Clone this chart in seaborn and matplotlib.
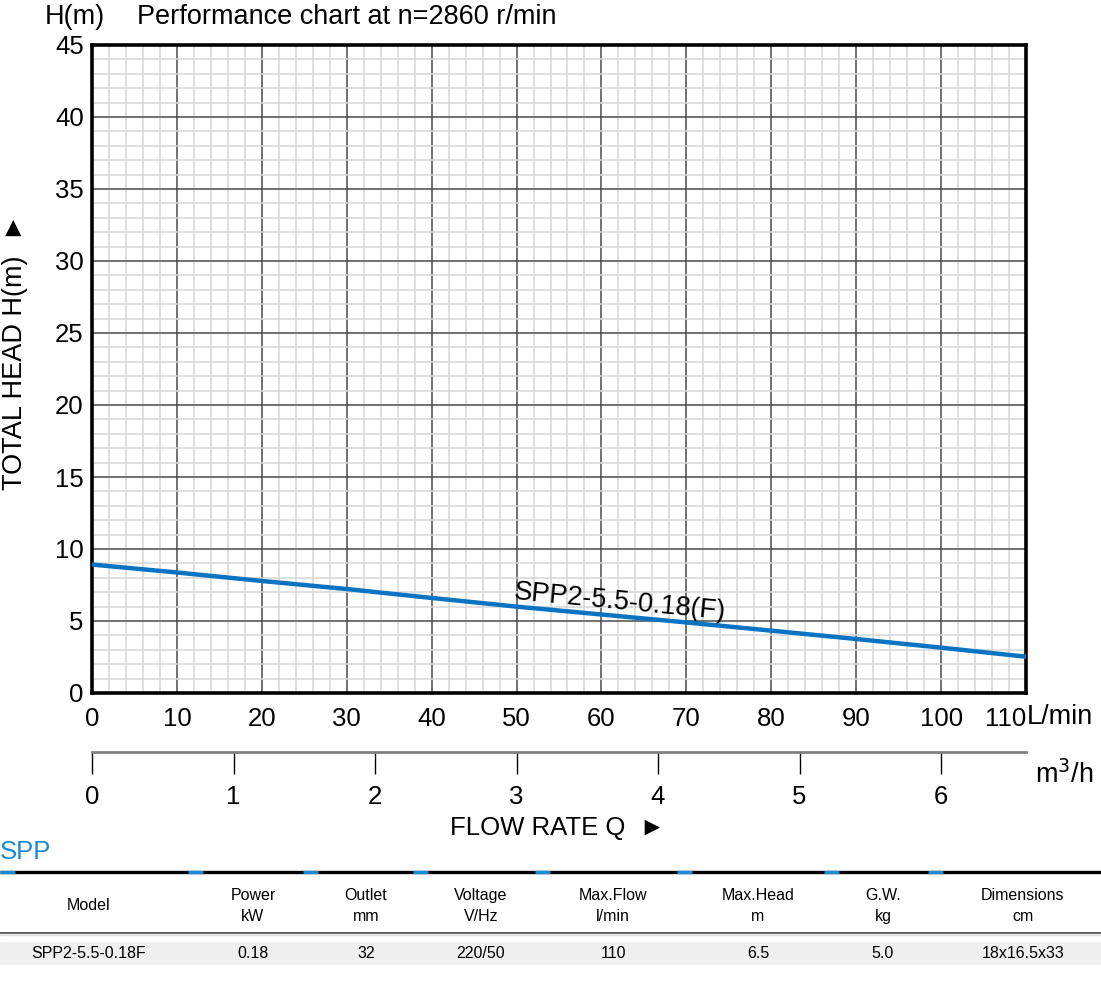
import numpy as np
import pandas as pd
import matplotlib
matplotlib.use("Agg")
import matplotlib.pyplot as plt
from matplotlib.ticker import MultipleLocator
from matplotlib.patches import Rectangle
import seaborn as sns

# -----------------------------
# Data
# -----------------------------
flow_lmin = [0, 10, 20, 30, 40, 50, 60, 70, 80, 90, 100, 110]
head_m = [8.92, 8.37, 7.78, 7.22, 6.6, 6.0, 5.45, 4.9, 4.33, 3.75, 3.15, 2.52]
curve_name = "SPP2-5.5-0.18(F)"

x_ticks = [0, 10, 20, 30, 40, 50, 60, 70, 80, 90, 100, 110]
y_ticks = [0, 5, 10, 15, 20, 25, 30, 35, 40, 45]
m3h_ticks = [0, 1, 2, 3, 4, 5, 6]

table_cols = ["Model", "Power\nkW", "Outlet\nmm", "Voltage\nV/Hz", "Max.Flow\nl/min",
              "Max.Head\nm", "G.W.\nkg", "Dimensions\ncm"]
table_row = ["SPP2-5.5-0.18F", "0.18", "32", "220/50", "110", "6.5", "5.0", "18x16.5x33"]
col_centers = [89, 253, 366, 481, 613, 758, 883, 1023]
blue_marks = [0, 188, 303, 413, 535, 677, 824, 928]

df = pd.DataFrame({"flow": flow_lmin, "head": head_m})

# -----------------------------
# Style
# -----------------------------
sns.set_theme(style="white")
plt.rcParams["font.family"] = ["Liberation Sans", "DejaVu Sans"]
plt.rcParams["text.color"] = "black"

BLUE = "#0a74c2"
W, H = 1101, 986
fig = plt.figure(figsize=(W / 100, H / 100), dpi=100)


def fy(py):
    return 1 - py / H


# -----------------------------
# Main performance chart
# -----------------------------
ax = fig.add_axes([92 / W, fy(693), (1026 - 92) / W, (693 - 45) / H])
sns.lineplot(data=df, x="flow", y="head", ax=ax, color=BLUE, linewidth=3.2, zorder=5)
ax.set_xlim(0, 110)
ax.set_ylim(0, 45)
ax.set_xticks(x_ticks)
ax.set_yticks(y_ticks)
ax.xaxis.set_minor_locator(MultipleLocator(2))
ax.yaxis.set_minor_locator(MultipleLocator(1))
ax.grid(which="minor", color="#d6d6d6", linewidth=1.1, zorder=0)
ax.grid(which="major", color="#4a4a4a", linewidth=1.1, zorder=1)
ax.set_axisbelow(True)
ax.tick_params(which="both", length=0, labelsize=18.5, colors="black")
ax.tick_params(axis="x", pad=10)
ax.tick_params(axis="y", pad=6)
ax.get_xticklabels()[-1].set_ha("right")
ax.set_xlabel("")
ax.set_ylabel("")
for s in ax.spines.values():
    s.set_color("black")
    s.set_linewidth(2.6)

ax.text(49.6, 6.55, curve_name, fontsize=19.5, rotation=-5.5, ha="left", va="baseline",
        rotation_mode="anchor")

fig.text(1027 / W, fy(717), "L/min", fontsize=19.5, va="center", ha="left")
fig.text(45 / W, fy(17), "H(m)", fontsize=19.5, va="center", ha="left")
fig.text(137 / W, fy(17), "Performance chart at n=2860 r/min", fontsize=19.5,
         va="center", ha="left")
fig.text(15 / W, fy(352), "TOTAL HEAD H(m)  \u25BA", fontsize=19.5, rotation=90,
         va="center", ha="center")

# -----------------------------
# Secondary m3/h axis
# -----------------------------
ax2 = fig.add_axes([92 / W, fy(752), (1026 - 92) / W, 0.0001])
ax2.set_xlim(0, 110 / 16.6667)
ax2.set_xticks(m3h_ticks)
ax2.set_yticks([])
for side in ["left", "right", "bottom"]:
    ax2.spines[side].set_visible(False)
ax2.spines["top"].set_color("#808080")
ax2.spines["top"].set_linewidth(2)
ax2.tick_params(axis="x", bottom=True, direction="out", length=16, width=1,
                color="black", labelsize=18.5, labelcolor="black", pad=8)
ax2.patch.set_alpha(0)
fig.text(1035 / W, fy(775), "m$^{3}$/h", fontsize=19.5, va="center", ha="left")
fig.text(558 / W, fy(828), "FLOW RATE Q  \u25BA", fontsize=18.5, va="center", ha="center")

# -----------------------------
# Specification table
# -----------------------------
tab = fig.add_axes([0, 0, 1, fy(838)])
tab.set_xlim(0, W)
tab.set_ylim(H, 838)
tab.axis("off")

fig.text(0 / W, fy(852), "SPP", fontsize=18.5, color="#1a8ad4", va="center", ha="left")
tab.plot([0, W], [871.5, 871.5], color="black", linewidth=2.4, solid_capstyle="butt")
for bx in blue_marks:
    tab.plot([bx, bx + 15], [871.5, 871.5], color="#1a8ad4", linewidth=2.4,
             solid_capstyle="butt")

for cx, label in zip(col_centers, table_cols):
    tab.text(cx, 906, label, fontsize=11.5, ha="center", va="center", linespacing=1.55)

tab.plot([0, W], [933, 933], color="#444444", linewidth=1.2)
tab.plot([0, W], [935, 935], color="#dddddd", linewidth=1.0)
tab.add_patch(Rectangle((0, 942), W, 23, facecolor="#efefef", edgecolor="none"))
for cx, val in zip(col_centers, table_row):
    tab.text(cx, 953, val, fontsize=11.5, ha="center", va="center")

fig.savefig("out.png", dpi=100)
